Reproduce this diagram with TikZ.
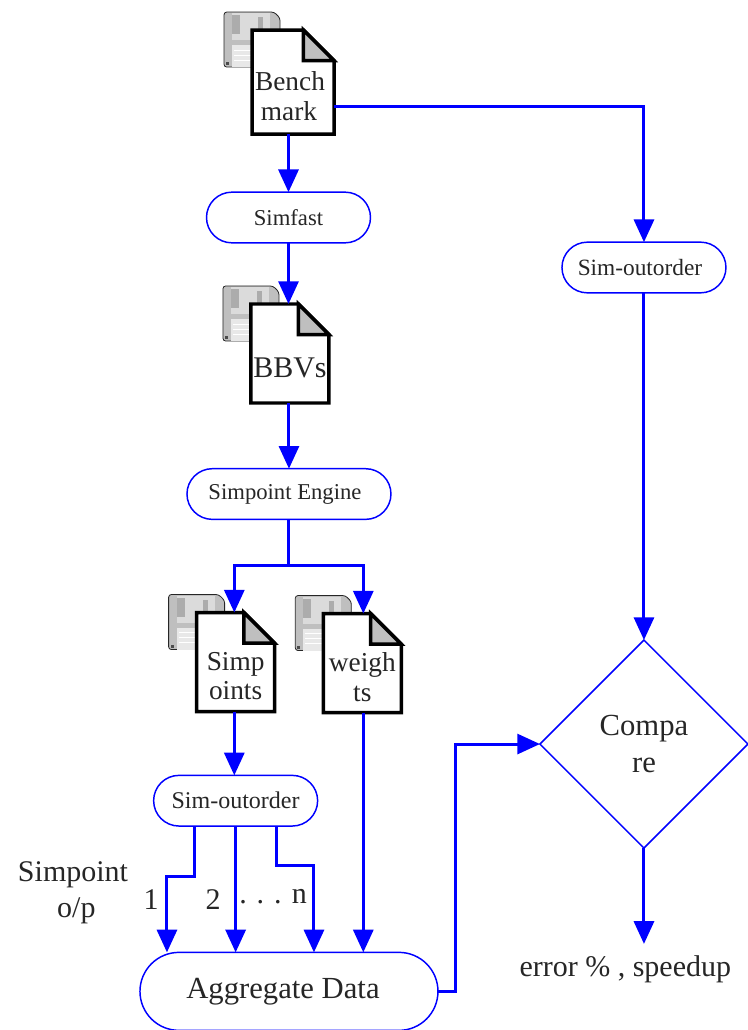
\documentclass[tikz,border=0pt]{standalone}
\usepackage{fontspec}
\setmainfont{Liberation Serif}
\usetikzlibrary{shapes.geometric,shapes.misc,arrows.meta,calc,positioning}
\definecolor{inktext}{gray}{0.15}
\tikzstyle{terminal} = [draw=blue, line width=1.1pt, rounded rectangle, fill=white,
    minimum height=38pt, minimum width=123pt, inner sep=0pt, outer sep=0pt, text=inktext,
    font=\fontsize{17}{20}\selectfont]
\tikzstyle{docpage} = [rectangle, minimum width=58.5pt, minimum height=74.25pt,
    inner sep=0pt, outer sep=0pt]
\tikzstyle{doctext} = [align=center, inner sep=0pt, text=inktext,
    font=\fontsize{20.5}{22}\selectfont]
\tikzstyle{decision} = [draw=blue, line width=1.1pt, diamond, aspect=1, minimum size=156pt,
    inner sep=0pt, outer sep=0pt, align=center, text=inktext,
    font=\fontsize{23}{28}\selectfont]
\tikzstyle{caption} = [align=center, inner sep=0pt, text=inktext,
    font=\fontsize{22.5}{27}\selectfont]
\tikzstyle{wire} = [draw=blue, line width=2.25pt]
\tikzstyle{flow} = [wire, -{Triangle[length=17pt,width=15pt]}]
\tikzset{
  floppy/.pic={
    \draw [fill=gray!50, draw=gray!30!black, line width=.6pt, rounded corners=2pt]
      (0,0) -- (50,0) -- (56,6) -- (56,55) -- (0,55) -- cycle;
    \fill [gray!28] (8,1) rectangle (46,28);
    \fill [gray!65] (8,3) rectangle (16,22);
    \fill [gray!65] (34,5) rectangle (39,21);
    \fill [gray!18] (8,33) rectangle (48,55);
    \foreach \rowy in {38,43,48}
      \draw [white, line width=.5pt] (10,\rowy) -- (46,\rowy);
    \fill [black!70] (2,50) rectangle (5,53);
  }
}
% page outline with its fold, floppy behind it
\newcommand{\docnode}[3]{
  \node [docpage, #2] (#1) {};
  \pic at ([xshift=-21pt,yshift=13.5pt]#1.north west) {floppy};
  \draw [draw=black, line width=2.6pt, fill=white, miter limit=4] (#1.north west)
    -- ([xshift=-23pt]#1.north east) -- ([yshift=-23pt]#1.north east)
    -- (#1.south east) -- (#1.south west) -- cycle;
  \draw [draw=black, line width=2.6pt, fill=gray!50] ([xshift=-23pt]#1.north east)
    -- ([xshift=-23pt,yshift=-23pt]#1.north east) -- ([yshift=-23pt]#1.north east) -- cycle;
  \node [doctext] (#1text) at ([yshift=-10.5pt]#1.center) {#3};
}
\begin{document}
\begin{tikzpicture}[x=.75pt,y=-.75pt,node distance=2cm]
    \useasboundingbox (0,0) rectangle (748,1030);

    % We start by placing the blocks
    \node [terminal] (simfast) at (288.5,217.5) {\raisebox{-1.5pt}{Simfast}};
    \docnode{bench}{above of=simfast, node distance=101.6pt, xshift=3.4pt,
        minimum width=61.5pt, minimum height=78pt}{Bench\hspace*{4.5pt}\\mark\hspace*{6pt}}
    \docnode{bbvs}{below of=simfast, node distance=102pt, xshift=1.1pt}{\fontsize{22.5}{24}\selectfont BBVs}
    \node [terminal, below of=bbvs, node distance=105.4pt, xshift=-.75pt, minimum width=153pt] (engine) {Simpoint Engine\hspace*{6pt}};
    \docnode{simpoints}{below of=engine, node distance=126pt, xshift=-40pt}{Simp\\oints}
    \docnode{weights}{right of=simpoints, node distance=95pt, yshift=-.75pt}{weigh\\ts}
    \node [terminal, below of=simpoints, node distance=104pt, font=\fontsize{18}{20}\selectfont] (lowerorder) {Sim-outorder};
    \node [terminal, below of=lowerorder, node distance=143pt, xshift=40pt, minimum width=223.5pt,
        minimum height=58.5pt, font=\fontsize{23}{26}\selectfont] (aggregate) {\raisebox{-2.5pt}{Aggregate Data}\hspace*{9pt}};

    \node [terminal, right of=simfast, node distance=266.6pt, yshift=-37.5pt, font=\fontsize{17.5}{20}\selectfont] (upperorder) {Sim-outorder\hspace*{6pt}};
    \node [decision, below of=upperorder, node distance=357.4pt] (compare) {\raisebox{-2.5pt}{Compa}\\\raisebox{-2.5pt}{re}};
    \node [caption, below of=compare, node distance=169.3pt, xshift=-14pt, inner ysep=9pt] (result) {error \% , speedup};

    \node [caption] (oplabel) at (73,893) {Simpoint\\\hspace{5pt}o/p};
    \node [caption] (one) at (151,900) {1};
    \node [caption] (two) at (213,900) {2};
    \node [caption] (many) at (273,897) {.\,\,.\,\,.\,\,n};

    % Once the nodes are placed, connecting them is easy.
    \draw [flow] (simfast.north |- bench.south) -- (simfast.north);
    \draw [flow] (bench.east |- 0,107) -| (upperorder.north);
    \draw [flow] (simfast.south) -- (simfast.south |- bbvs.north);
    \draw [flow] (engine.north |- bbvs.south) -- (engine.north);
    \draw [wire] (engine.south) -- ++(0,46) coordinate (branch);
    \draw [flow] (branch) -| ([xshift=-1pt]simpoints.north);
    \draw [flow] (branch) -| ([xshift=.75pt]weights.north);
    \draw [flow] ([xshift=-1pt]simpoints.south) -- ([xshift=-1pt]lowerorder.north);
    \draw [flow] ([xshift=-30.75pt]lowerorder.south) -- ++(0,50) -| ([xshift=-91.5pt]aggregate.north);
    \draw [flow] (lowerorder.south) -- (lowerorder.south |- aggregate.north);
    \draw [flow] ([xshift=30.75pt]lowerorder.south) -- ++(0,39) -| ([xshift=18.75pt]aggregate.north);
    \draw [flow] ([xshift=.75pt]weights.south) -- ([xshift=.75pt]weights.south |- aggregate.north);
    \draw [flow] (aggregate.east) -- ++(18,0) |- (compare.west);
    \draw [flow] (upperorder.south) -- (compare.north);
    \draw [flow] (compare.south) -- (result.north -| compare.south);
\end{tikzpicture}
\end{document}
